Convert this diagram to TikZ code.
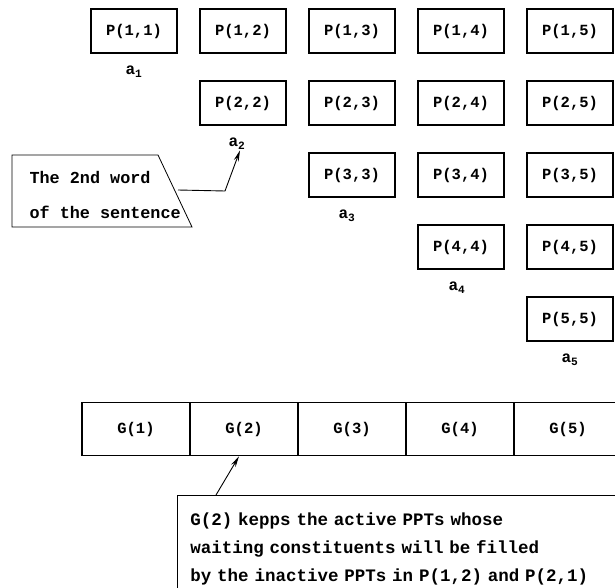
\documentclass[tikz,border=0pt]{standalone}
\usepackage{fontspec}
\setmonofont{Liberation Mono}
\usetikzlibrary{arrows.meta,positioning}

\tikzset{
  pbox/.style={draw,line width=1.6pt,minimum width=86pt,minimum height=44pt,
    font=\ttfamily\bfseries\fontsize{15.5}{18}\selectfont},
  gbox/.style={draw,line width=1.6pt,minimum width=108pt,minimum height=53pt,
    font=\ttfamily\bfseries\fontsize{15.5}{18}\selectfont},
  alabel/.style={inner sep=1pt,font=\ttfamily\bfseries\fontsize{16}{18}\selectfont},
  calltext/.style={align=left,font=\ttfamily\bfseries\fontsize{16.8}{35}\selectfont},
  notebox/.style={draw,line width=0.8pt,text width=440pt,align=left,inner xsep=13pt,
    inner ysep=17pt,font=\ttfamily\bfseries\fontsize{17.5}{28}\selectfont},
  pointer/.style={line width=0.9pt,-{Stealth[length=11pt,width=5pt]}}
}

\begin{document}
\begin{tikzpicture}[x=1pt,y=1pt]
  \clip (0,0) rectangle (615,-588);

  % Row 1
  \node[pbox] (p11) at (134,-31) {P(1,1)};
  \node[pbox] (p12) at (243,-31) {P(1,2)};
  \node[pbox] (p13) at (352,-31) {P(1,3)};
  \node[pbox] (p14) at (461,-31) {P(1,4)};
  \node[pbox] (p15) at (570,-31) {P(1,5)};
  % Row 2
  \node[pbox] (p22) at (243,-103) {P(2,2)};
  \node[pbox] (p23) at (352,-103) {P(2,3)};
  \node[pbox] (p24) at (461,-103) {P(2,4)};
  \node[pbox] (p25) at (570,-103) {P(2,5)};
  % Row 3
  \node[pbox] (p33) at (352,-175) {P(3,3)};
  \node[pbox] (p34) at (461,-175) {P(3,4)};
  \node[pbox] (p35) at (570,-175) {P(3,5)};
  % Row 4
  \node[pbox] (p44) at (461,-247) {P(4,4)};
  \node[pbox] (p45) at (570,-247) {P(4,5)};
  % Row 5
  \node[pbox] (p55) at (570,-319) {P(5,5)};

  % Diagonal labels
  \node[alabel,below=11pt of p11] (a1) {a\textsubscript{1}};
  \node[alabel,below=11pt of p22,xshift=-6pt] (a2) {a\textsubscript{2}};
  \node[alabel,below=11pt of p33,xshift=-5pt] (a3) {a\textsubscript{3}};
  \node[alabel,below=11pt of p44,xshift=-4pt] (a4) {a\textsubscript{4}};
  \node[alabel,below=11pt of p55] (a5) {a\textsubscript{5}};

  % Callout
  \draw[line width=0.8pt] (12,-155) -- (158,-155) -- (192,-227) -- (12,-227) -- cycle;
  \node[calltext,anchor=west] (word) at (26,-195) {The 2nd word\\of the sentence};
  \coordinate (wordout) at (178,-190);
  \coordinate (bend) at (225,-191);
  \draw[pointer] (wordout) -- (bend) -- ([xshift=3pt]a2.south);

  % G row
  \node[gbox] (g1) at (136,-429) {G(1)};
  \node[gbox] (g2) at (244,-429) {G(2)};
  \node[gbox] (g3) at (352,-429) {G(3)};
  \node[gbox] (g4) at (460,-429) {G(4)};
  \node[gbox] (g5) at (568,-429) {G(5)};

  % Note
  \node[notebox,anchor=north west] (note) at (177,-495)
    {G(2) kepps the active PPTs whose\\
     waiting constituents will be filled\\
     by the inactive PPTs in P(1,2) and P(2,1)};
  \coordinate (noteout) at (216,-495);
  \draw[pointer] (noteout) -- ([xshift=-5pt]g2.south);
\end{tikzpicture}
\end{document}
